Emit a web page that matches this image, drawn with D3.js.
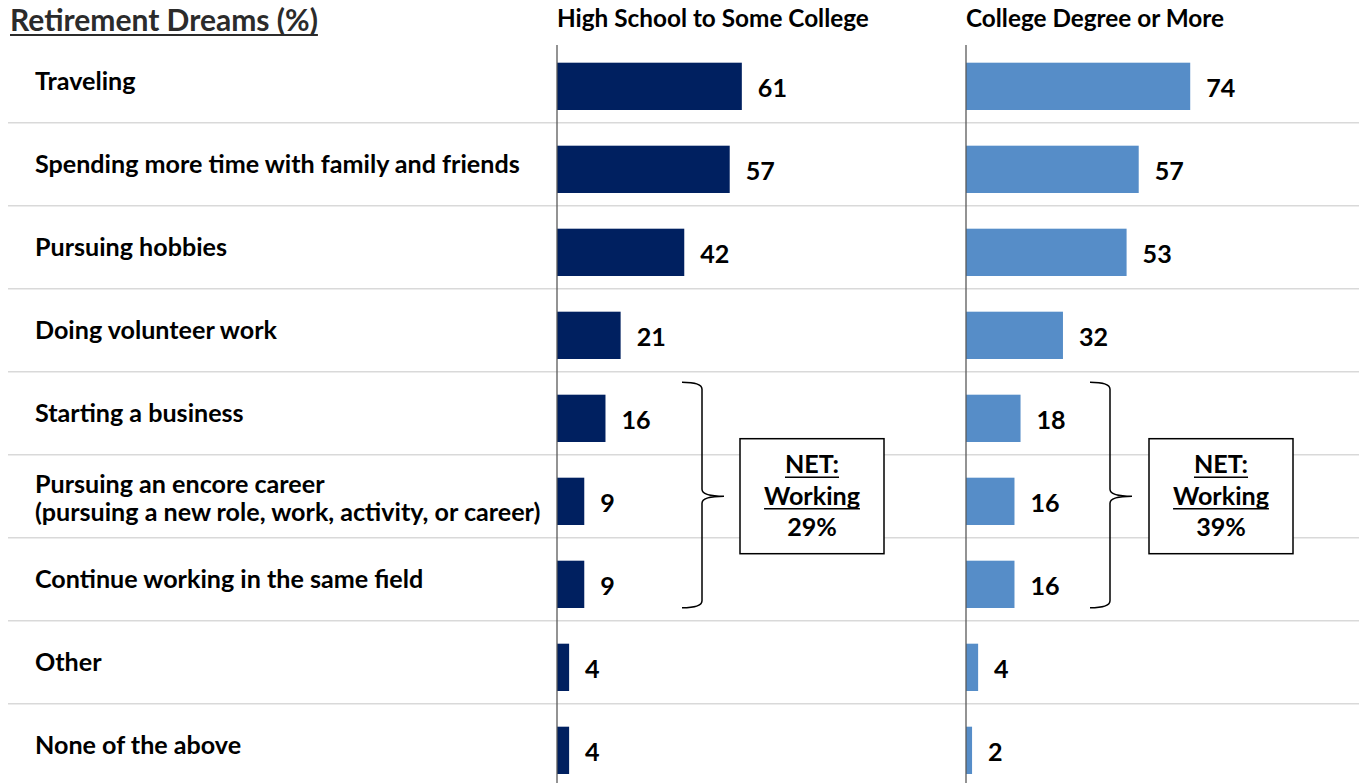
<!DOCTYPE html>
<html>
<head>
<meta charset="utf-8">
<script src="https://cdn.jsdelivr.net/npm/d3@7"></script>
<style>
  html, body { margin: 0; padding: 0; background: #fff; }
  svg { display: block; }
  text { font-family: Lato, "Liberation Sans", sans-serif; font-weight: bold; }
</style>
</head>
<body>
<svg id="chart" width="1359" height="783"></svg>
<script>
// ---------- data ----------
const title = "Retirement Dreams (%)";
const categories = [
  "Traveling",
  "Spending more time with family and friends",
  "Pursuing hobbies",
  "Doing volunteer work",
  "Starting a business",
  "Pursuing an encore career\n(pursuing a new role, work, activity, or career)",
  "Continue working in the same field",
  "Other",
  "None of the above"
];
const seriesNames = ["High School to Some College", "College Degree or More"];
const hsValues = [61, 57, 42, 21, 16, 9, 9, 4, 4];
const collegeValues = [74, 57, 53, 32, 18, 16, 16, 4, 2];
const netWorking = [29, 39];
const netRows = ["Starting a business", categories[5], "Continue working in the same field"];
const seriesColors = ["#002060", "#568DC8"];

// ---------- layout ----------
const W = 1359, H = 783;
const svg = d3.select("#chart");
const panelX = [557, 966];
const y = d3.scaleBand().domain(categories).range([39.7, 39.7 + 9 * 83]).paddingInner(0).paddingOuter(0);
const bw = y.bandwidth();
const x = d3.scaleLinear().domain([0, 100]).range([0, 303]);

function fitSize(str, target, base) {
  const t = svg.append("text").attr("font-size", base).text(str);
  const w = t.node().getComputedTextLength();
  t.remove();
  return base * target / w;
}
const fsLabel = fitSize("Spending more time with family and friends", 485, 22);
const fsHeader = fitSize("High School to Some College", 312, 22);
const fsTitle = fitSize(title, 308, 26);

// manual underline under a text element
function underline(parent, textSel, anchor, color, sw, off) {
  const node = textSel.node();
  const w = node.getComputedTextLength();
  const tx = +textSel.attr("x"), ty = +textSel.attr("y");
  const x0 = anchor === "middle" ? tx - w / 2 : tx;
  parent.append("line").attr("x1", x0).attr("x2", x0 + w)
    .attr("y1", ty + off).attr("y2", ty + off)
    .attr("stroke", color).attr("stroke-width", sw);
}

// separators
const seps = categories.slice(1).map(c => y(c));
svg.append("g").selectAll("line").data(seps).join("line")
  .attr("x1", 8).attr("x2", W).attr("y1", d => d).attr("y2", d => d)
  .attr("stroke", "#d9d9d9").attr("stroke-width", 1.6);

// title
const tt = svg.append("text").attr("x", 10).attr("y", 31).attr("font-size", fsTitle)
  .attr("fill", "#2b2b2b").text(title);
underline(svg, tt, "start", "#2b2b2b", 2, 4);

// category labels
const lab = svg.append("g").selectAll("text").data(categories).join("text")
  .attr("x", 35).attr("font-size", fsLabel).attr("fill", "#000");
lab.each(function(d) {
  const lines = d.split("\n");
  const cy = y(d) + bw / 2;
  const sel = d3.select(this);
  const lh = 28;
  lines.forEach((ln, i) => {
    sel.append("tspan").attr("x", 35)
      .attr("y", cy + 0.36 * fsLabel + (i - (lines.length - 1) / 2) * lh + (lines.length > 1 ? 1.5 : 0))
      .text(ln);
  });
});

// panels
[hsValues, collegeValues].forEach((vals, p) => {
  const g = svg.append("g").attr("transform", `translate(${panelX[p]},0)`);
  g.append("text").attr("x", 0).attr("y", 27).attr("font-size", fsHeader).attr("fill", "#000")
    .text(seriesNames[p]);
  g.selectAll("rect").data(categories).join("rect")
    .attr("x", 0)
    .attr("y", d => y(d) + bw * 0.277)
    .attr("width", (d, i) => x(vals[i]))
    .attr("height", bw * 0.57)
    .attr("fill", seriesColors[p]);
  g.selectAll("text.val").data(categories).join("text").attr("class", "val")
    .attr("x", (d, i) => x(vals[i]) + 16)
    .attr("y", d => y(d) + bw * 0.277 + bw * 0.285 + 0.36 * fsLabel + 1.5)
    .attr("font-size", fsLabel).attr("fill", "#000")
    .text((d, i) => vals[i]);
  g.append("line").attr("x1", 0).attr("x2", 0).attr("y1", 45).attr("y2", H)
    .attr("stroke", "#595959").attr("stroke-width", 1.3);

  // brace
  const top = y(netRows[0]) + 10.5;
  const bot = y(netRows[2]) + bw - 13;
  const mid = y(netRows[1]) + bw / 2;
  const bx = 145 - (p === 1 ? 1 : 0);
  const r = 7;
  const path = `M ${bx - 20} ${top} Q ${bx} ${top} ${bx} ${top + r}
    L ${bx} ${mid - r} Q ${bx} ${mid} ${bx + 22} ${mid}
    Q ${bx} ${mid} ${bx} ${mid + r}
    L ${bx} ${bot - r} Q ${bx} ${bot} ${bx - 20} ${bot}`;
  g.append("path").attr("d", path).attr("fill", "none").attr("stroke", "#000").attr("stroke-width", 1.5);

  // NET box
  const boxX = 183, boxW = 144, boxH = 115;
  g.append("rect").attr("x", boxX).attr("y", mid - boxH / 2).attr("width", boxW).attr("height", boxH)
    .attr("fill", "#fff").attr("stroke", "#000").attr("stroke-width", 1.5);
  const lines = [["NET:", true], ["Working", true], [netWorking[p] + "%", false]];
  lines.forEach((d, i) => {
    const t = g.append("text")
      .attr("x", boxX + boxW / 2)
      .attr("y", mid - 23 + i * 31.5)
      .attr("text-anchor", "middle").attr("font-size", fsLabel).attr("fill", "#000")
      .text(d[0]);
    if (d[1]) underline(g, t, "middle", "#000", 1.6, 4);
  });
});
</script>
</body>
</html>
